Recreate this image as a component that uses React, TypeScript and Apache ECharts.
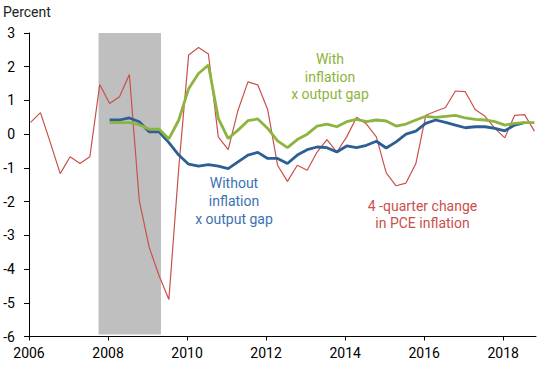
import React, { useEffect, useRef } from "react";
import * as echarts from "echarts";

// Quarterly data, 2006Q1 onward
const startYear = 2006;
const pceChange = [
  0.35, 0.64, -0.25, -1.17,
  -0.67, -0.87, -0.67, 1.47,
  0.91, 1.11, 1.77, -1.96,
  -3.35, -4.19, -4.9, -1.0,
  2.35, 2.57, 2.38, -0.08,
  -0.46, 0.71, 1.55, 1.46,
  0.73, -0.92, -1.4, -0.92,
  -1.07, -0.53, -0.16, -0.53,
  -0.08, 0.5, 0.3, -0.08,
  -1.15, -1.53, -1.45, -0.87,
  0.56, 0.68, 0.79, 1.28,
  1.26, 0.73, 0.53, 0.17,
  -0.11, 0.56, 0.58, 0.09,
];
// From 2008Q1
const withStartYear = 2008;
const withGap = [
  0.34, 0.34, 0.34, 0.28,
  0.15, 0.15, -0.14, 0.42,
  1.35, 1.8, 2.05, 0.47,
  -0.13, 0.12, 0.4, 0.45,
  0.17, -0.2, -0.4, -0.16,
  0.0, 0.24, 0.3, 0.22,
  0.37, 0.44, 0.37, 0.42,
  0.39, 0.24, 0.3, 0.42,
  0.53, 0.5, 0.53, 0.56,
  0.48, 0.44, 0.42, 0.37,
  0.27, 0.32, 0.34, 0.34,
];
const withoutGap = [
  0.42, 0.42, 0.48, 0.37,
  0.07, 0.07, -0.25, -0.62,
  -0.89, -0.95, -0.9, -0.95,
  -1.02, -0.82, -0.62, -0.54,
  -0.72, -0.72, -0.87, -0.62,
  -0.46, -0.38, -0.4, -0.53,
  -0.35, -0.4, -0.33, -0.21,
  -0.41, -0.23, 0.0, 0.09,
  0.32, 0.42, 0.35, 0.27,
  0.19, 0.22, 0.22, 0.17,
  0.1, 0.27, 0.34,
];
const xTicks = [2006, 2008, 2010, 2012, 2014, 2016, 2018];
const recession = [2007.76, 2009.34];

const quarterDate = (y0: number, i: number) => y0 + i / 4 + 0.04;
const toPairs = (y0: number, arr: number[]) => arr.map((v, i) => [quarterDate(y0, i), v]);

const FONT = "Roboto";

export default function App() {
  const ref = useRef<HTMLDivElement>(null);
  useEffect(() => {
    if (!ref.current) return;
    const chart = echarts.init(ref.current, undefined, { renderer: "svg" });
    chart.setOption({
      animation: false,
      grid: { left: 29, right: 14, top: 33, bottom: 28.5 },
      xAxis: {
        type: "value",
        min: 2006,
        max: 2018.83,
        interval: 2,
        splitLine: { show: false },
        axisLine: { show: true, onZero: false, lineStyle: { color: "#000", width: 1 } },
        axisTick: { show: true, length: 4, lineStyle: { color: "#000" }, customValues: xTicks },
        axisLabel: { color: "#000", fontSize: 14, fontFamily: FONT, margin: 9, customValues: xTicks, formatter: (v: number) => String(v) },
      },
      yAxis: {
        type: "value",
        min: -6,
        max: 3,
        interval: 1,
        splitLine: { show: false },
        axisLine: { show: true, onZero: false, lineStyle: { color: "#000", width: 1 } },
        axisTick: { show: true, length: 5, lineStyle: { color: "#000" } },
        axisLabel: { color: "#000", fontSize: 14, fontFamily: FONT, margin: 14 },
      },
      series: [
        {
          type: "line",
          data: [],
          z: 1,
          silent: true,
          markArea: {
            silent: true,
            itemStyle: { color: "#bfbfbf" },
            data: [[{ coord: [recession[0], 3] }, { coord: [recession[1], -5.94] }]],
          },
        },
        {
          type: "line",
          data: toPairs(startYear, pceChange),
          z: 2,
          symbol: "none",
          lineStyle: { color: "#c9504b", width: 1.2 },
        },
        {
          type: "line",
          data: toPairs(withStartYear, withoutGap),
          z: 3,
          symbol: "none",
          lineStyle: { color: "#2c5f94", width: 2.8 },
        },
        {
          type: "line",
          data: toPairs(withStartYear, withGap),
          z: 4,
          symbol: "none",
          lineStyle: { color: "#8cb43e", width: 2.8 },
        },
      ],
      graphic: [
        {
          type: "text",
          left: 3,
          top: 5,
          style: { text: "Percent", fill: "#222", font: `14px ${FONT}` },
        },
        {
          type: "text",
          x: 330,
          y: 50.5,
          style: {
            text: "With\ninflation\nx output gap",
            fill: "#8cb43e",
            font: `14px ${FONT}`,
            align: "center",
            verticalAlign: "top",
            lineHeight: 17.5,
          },
        },
        {
          type: "text",
          x: 234,
          y: 173.5,
          style: {
            text: "Without\ninflation\nx output gap",
            fill: "#3b72b1",
            font: `14px ${FONT}`,
            align: "center",
            verticalAlign: "top",
            lineHeight: 18,
          },
        },
        {
          type: "text",
          x: 422.5,
          y: 196.75,
          style: {
            text: "4 -quarter change\nin PCE inflation",
            fill: "#c9504b",
            font: `14px ${FONT}`,
            align: "center",
            verticalAlign: "top",
            lineHeight: 17.5,
          },
        },
      ],
    });
    return () => chart.dispose();
  }, []);
  return <div ref={ref} style={{ width: 550, height: 365, position: "absolute", left: 0, top: 0 }} />;
}
